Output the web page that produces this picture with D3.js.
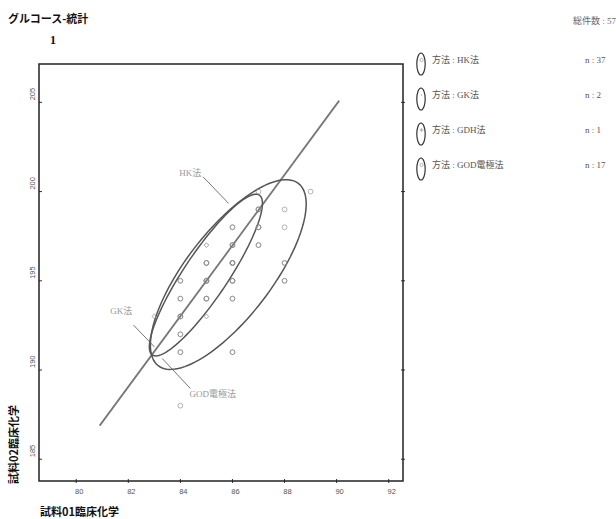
<!DOCTYPE html>
<html>
<head>
<meta charset="utf-8">
<script src="https://cdn.jsdelivr.net/npm/d3@7"></script>
<style>
  body { margin: 0; background: #fff; }
  svg { display: block; }
</style>
</head>
<body>
<div id="chart"></div>
<script>
// Data
const methods = ["HK法", "GK法", "GDH法", "GOD電極法"];
const hkPoints = [
  [87, 200], [89, 200], [87, 199], [87, 199], [88, 199], [86, 198], [87, 198], [87, 198],
  [88, 198], [86, 197], [87, 197], [87, 197], [85, 196], [86, 196], [86, 196], [88, 196],
  [88, 196], [84, 195], [85, 195], [85, 195], [86, 195], [86, 195], [88, 195], [88, 195],
  [84, 194], [85, 194], [86, 194], [86, 194], [84, 193], [84, 192], [84, 191], [86, 191],
  [86, 191], [84, 188], [86, 197], [85, 196], [87, 198]
];
const gkPoints = [[85, 197], [83, 193]];
const gdhPoints = [[85, 193]];
const godPoints = [
  [84, 191], [84, 192], [84, 193], [84, 194], [84, 195], [85, 194], [85, 195], [85, 195],
  [85, 196], [86, 195], [86, 196], [86, 196], [86, 197], [86, 198], [87, 199], [85, 194],
  [84, 193]
];
const xTicks = [80, 82, 84, 86, 88, 90, 92];
const yTicks = [185, 190, 195, 200, 205];
// ellipse: centre, half major axis vector, half minor axis vector (data units)
const hkEllipse = { cx: 85.84, cy: 195.35, ux: 2.69, uy: 5.11, vx: 1.31, vy: -1.468 };
const godEllipse = { cx: 84.98, cy: 195.32, ux: 2.055, uy: 4.48, vx: 0.703, vy: -0.685 };
// regression line
const regSlope = 1.98;
const regIntercept = 26.7;
const regRange = [80.9, 90.1];

const WIDTH = 616;
const HEIGHT = 519;
const margin = { left: 39, right: 213, top: 64, bottom: 38 };

const svg = d3.select("#chart").append("svg")
  .attr("width", WIDTH)
  .attr("height", HEIGHT);

const x = d3.scaleLinear().domain([78.57, 92.55]).range([margin.left, WIDTH - margin.right]);
const y = d3.scaleLinear().domain([183.78, 207.15]).range([HEIGHT - margin.bottom, margin.top]);

// Title
svg.append("text")
  .attr("x", 8).attr("y", 23)
  .attr("font-family", "Noto Sans CJK JP")
  .attr("font-weight", "bold")
  .attr("font-size", 11)
  .attr("fill", "#111")
  .text("グルコース-統計");
svg.append("text")
  .attr("x", 50).attr("y", 44)
  .attr("font-family", "Liberation Serif")
  .attr("font-weight", "bold")
  .attr("font-size", 12)
  .attr("fill", "#111")
  .text("1");

const total = hkPoints.length + gkPoints.length + gdhPoints.length + godPoints.length;
svg.append("text")
  .attr("x", 616).attr("y", 24)
  .attr("text-anchor", "end")
  .attr("font-family", "Liberation Serif, Noto Sans CJK JP")
  .attr("font-size", 9)
  .attr("fill", "#666")
  .text("総件数 : " + total);

// Ticks
const tickFont = "Liberation Sans Narrow, Liberation Sans";
xTicks.forEach(t => {
  svg.append("line")
    .attr("x1", x(t)).attr("x2", x(t))
    .attr("y1", y.range()[0] - 2).attr("y2", y.range()[0] + 2)
    .attr("stroke", "#333");
  svg.append("text")
    .attr("x", x(t) + 3).attr("y", y.range()[0] + 13)
    .attr("text-anchor", "middle")
    .attr("font-family", tickFont)
    .attr("font-size", 7.5)
    .attr("fill", "#555")
    .text(t);
});
yTicks.forEach(t => {
  svg.append("line")
    .attr("x1", x.range()[0]).attr("x2", x.range()[0] + 3)
    .attr("y1", y(t)).attr("y2", y(t))
    .attr("stroke", "#333");
  svg.append("line")
    .attr("x1", x.range()[1] - 2).attr("x2", x.range()[1] + 2)
    .attr("y1", y(t)).attr("y2", y(t))
    .attr("stroke", "#333");
  svg.append("text")
    .attr("transform", "translate(" + (x.range()[0] - 4) + "," + (y(t) - 2) + ") rotate(-90)")
    .attr("text-anchor", "start")
    .attr("font-family", tickFont)
    .attr("font-size", 7.5)
    .attr("fill", "#555")
    .text(t);
});

// Frame
svg.append("rect")
  .attr("x", x.range()[0]).attr("y", y.range()[1])
  .attr("width", x.range()[1] - x.range()[0])
  .attr("height", y.range()[0] - y.range()[1])
  .attr("fill", "none")
  .attr("stroke", "#222")
  .attr("stroke-width", 1.5);

// Axis titles
svg.append("text")
  .attr("x", 40).attr("y", 516)
  .attr("font-family", "Noto Sans CJK JP")
  .attr("font-weight", "bold")
  .attr("font-size", 11)
  .attr("fill", "#111")
  .text("試料01臨床化学");
svg.append("text")
  .attr("transform", "translate(18,484) rotate(-90)")
  .attr("font-family", "Noto Sans CJK JP")
  .attr("font-weight", "bold")
  .attr("font-size", 11)
  .attr("fill", "#111")
  .text("試料02臨床化学");

// Regression line
svg.append("line")
  .attr("x1", x(regRange[0])).attr("y1", y(regSlope * regRange[0] + regIntercept))
  .attr("x2", x(regRange[1])).attr("y2", y(regSlope * regRange[1] + regIntercept))
  .attr("stroke", "#777")
  .attr("stroke-width", 1.8);

// Ellipses
const line = d3.line().x(d => x(d[0])).y(d => y(d[1]));
function ellipsePoints(e) {
  return d3.range(0, 361, 3).map(a => {
    const t = a * Math.PI / 180;
    return [e.cx + e.ux * Math.cos(t) + e.vx * Math.sin(t),
            e.cy + e.uy * Math.cos(t) + e.vy * Math.sin(t)];
  });
}
[hkEllipse, godEllipse].forEach(e => {
  svg.append("path")
    .attr("d", line(ellipsePoints(e)))
    .attr("fill", "none")
    .attr("stroke", "#555")
    .attr("stroke-width", 1.5);
});

// Points
function drawCircles(pts) {
  svg.append("g").selectAll("circle")
    .data(pts)
    .enter()
    .append("circle")
    .attr("cx", d => x(d[0]))
    .attr("cy", d => y(d[1]))
    .attr("r", 2.4)
    .attr("fill", "none")
    .attr("stroke", "#888")
    .attr("stroke-opacity", 0.7)
    .attr("stroke-width", 0.9);
}
function drawDiamonds(pts) {
  svg.append("g").selectAll("path")
    .data(pts)
    .enter()
    .append("path")
    .attr("d", d3.symbol().type(d3.symbolDiamond2).size(14))
    .attr("transform", d => "translate(" + x(d[0]) + "," + y(d[1]) + ")")
    .attr("fill", "none")
    .attr("stroke", "#999")
    .attr("stroke-width", 0.9);
}
drawCircles(hkPoints);
drawCircles(godPoints);
drawDiamonds(gkPoints);
drawDiamonds(gdhPoints);

// Ellipse labels with leader lines
const labelColor = "#999";
const labelFont = "Liberation Serif, Noto Sans CJK JP";
function label(text, tx, ty, from, to) {
  svg.append("text")
    .attr("x", x(tx)).attr("y", y(ty))
    .attr("font-family", labelFont)
    .attr("font-size", 9)
    .attr("fill", labelColor)
    .text(text);
  svg.append("line")
    .attr("x1", x(from[0])).attr("y1", y(from[1]))
    .attr("x2", x(to[0])).attr("y2", y(to[1]))
    .attr("stroke", "#666")
    .attr("stroke-width", 0.9);
}
label("HK法", 83.96, 200.85, [84.87, 200.83], [85.85, 199.34]);
label("GK法", 81.31, 193.16, [82.2, 192.52], [83.0, 191.3]);
label("GOD電極法", 84.35, 188.49, [83.3, 190.65], [84.38, 188.97]);

// Legend
const legendCounts = [hkPoints.length, gkPoints.length, gdhPoints.length, godPoints.length];
const legendMarks = ["circle", "dot", "plus", "circle"];
const legend = svg.append("g").attr("transform", "translate(421,0)");
methods.forEach((m, i) => {
  const cy = 64 + i * 35;
  legend.append("ellipse")
    .attr("cx", 0).attr("cy", cy)
    .attr("rx", 4.2).attr("ry", 11)
    .attr("fill", "none")
    .attr("stroke", "#333")
    .attr("stroke-width", 1.2);
  const mk = legendMarks[i];
  if (mk === "circle") {
    legend.append("circle").attr("cx", 0.5).attr("cy", cy - 4).attr("r", 1.6)
      .attr("fill", "none").attr("stroke", "#999").attr("stroke-width", 0.7);
  } else if (mk === "dot") {
    legend.append("circle").attr("cx", 0.5).attr("cy", cy - 4).attr("r", 0.8)
      .attr("fill", "#aaa");
  } else {
    legend.append("path").attr("d", d3.symbol().type(d3.symbolCross).size(8))
      .attr("transform", "translate(0.5," + (cy - 4) + ")")
      .attr("fill", "#bbb");
  }
  legend.append("text")
    .attr("x", 11).attr("y", cy - 1)
    .attr("font-family", labelFont)
    .attr("font-size", 9)
    .attr("fill", "#555")
    .text("方法 : " + m);
  legend.append("text")
    .attr("x", 164).attr("y", cy - 1)
    .attr("font-family", labelFont)
    .attr("font-size", 9)
    .attr("fill", "#555")
    .text("n : " + legendCounts[i]);
});
</script>
</body>
</html>
